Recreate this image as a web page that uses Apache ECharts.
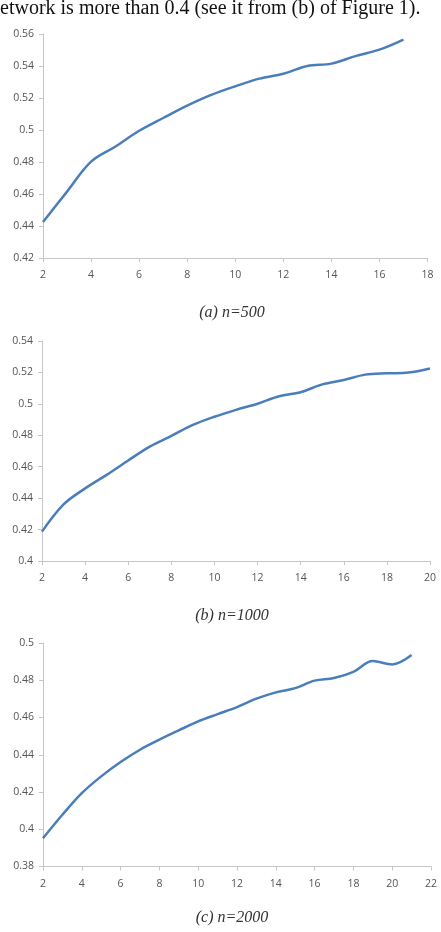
<!DOCTYPE html>
<html>
<head>
<meta charset="utf-8">
<script src="https://cdn.jsdelivr.net/npm/echarts@6/dist/echarts.min.js"></script>
<style>
html,body{margin:0;padding:0;background:#fff;}
#c{width:441px;height:932px;}
</style>
</head>
<body>
<div id="c"></div>
<script>
// Chart (a) n=500
const xA = [2,3,4,5,6,7,8,9,10,11,12,13,14,15,16,17];
const yA = [0.4425,0.4615,0.4802,0.4895,0.4995,0.5075,0.5152,0.5219,0.5273,0.5321,0.5352,0.5400,0.5415,0.5462,0.5502,0.5565];
// Chart (b) n=1000
const xB = [2,3,4,5,6,7,8,9,10,11,12,13,14,15,16,17,18,19,20];
const yB = [0.4187,0.4360,0.4462,0.4548,0.4640,0.4728,0.4796,0.4866,0.4918,0.4962,0.5001,0.5048,0.5074,0.5124,0.5152,0.5186,0.5194,0.5199,0.5225];
// Chart (c) n=2000
const xC = [2,3,4,5,6,7,8,9,10,11,12,13,14,15,16,17,18,19,20,21];
const yC = [0.3952,0.4078,0.4194,0.4284,0.4361,0.4427,0.4481,0.4531,0.4579,0.4618,0.4656,0.4701,0.4735,0.4758,0.4798,0.4812,0.4845,0.4903,0.4885,0.4935];
// axis ranges / tick labels
const axA = {xmin:2,xmax:18,xint:2,ymin:0.42,ymax:0.56,yint:0.02};
const axB = {xmin:2,xmax:20,xint:2,ymin:0.40,ymax:0.54,yint:0.02};
const axC = {xmin:2,xmax:22,xint:2,ymin:0.38,ymax:0.50,yint:0.02};
const captions = ['(a) n=500','(b) n=1000','(c) n=2000'];
const headerText = 'etwork is more than 0.4 (see it from (b) of Figure 1).';

const chart = echarts.init(document.getElementById('c'), null, {renderer:'canvas'});
const axisCol = '#c6c6c6';
const labCol = '#555555';
const labFont = {color:labCol, fontSize:10.5, fontFamily:'Open Sans, DejaVu Sans, sans-serif'};

function xAxis(i, ax){
  return {type:'value', gridIndex:i, min:ax.xmin, max:ax.xmax, interval:ax.xint,
    axisLine:{show:true, lineStyle:{color:axisCol,width:1}},
    axisTick:{show:true, length:4, lineStyle:{color:axisCol}},
    splitLine:{show:false},
    axisLabel:Object.assign({margin:12}, labFont)};
}
function yAxis(i, ax){
  return {type:'value', gridIndex:i, min:ax.ymin, max:ax.ymax, interval:ax.yint,
    axisLine:{show:true, lineStyle:{color:axisCol,width:1}},
    axisTick:{show:true, length:4, lineStyle:{color:axisCol}},
    splitLine:{show:false},
    axisLabel:Object.assign({margin:9, formatter:v=>String(+v.toFixed(2))}, labFont)};
}
function series(i, xs, ys){
  return {type:'line', xAxisIndex:i, yAxisIndex:i, data:xs.map((x,k)=>[x,ys[k]]),
    smooth:0.35, showSymbol:false, symbol:'none',
    lineStyle:{color:'#4a7ebb', width:2.5}};
}
const capStyle = {fill:'#333', fontSize:16, fontStyle:'italic', fontFamily:'Liberation Serif, Times New Roman, serif', textAlign:'center', textVerticalAlign:'middle'};

chart.setOption({
  animation:false,
  backgroundColor:'#fff',
  grid:[
    {left:43, top:34, width:384.5, height:224},
    {left:42, top:341, width:388, height:220},
    {left:43, top:643, width:388, height:223.5}
  ],
  xAxis:[xAxis(0,axA), xAxis(1,axB), xAxis(2,axC)],
  yAxis:[yAxis(0,axA), yAxis(1,axB), yAxis(2,axC)],
  series:[series(0,xA,yA), series(1,xB,yB), series(2,xC,yC)],
  graphic:[
    {type:'text', x:0, y:-1, style:{text:headerText, fill:'#111', fontSize:20, fontFamily:'Liberation Serif, Times New Roman, serif'}},
    {type:'text', x:232, y:313, style:Object.assign({text:captions[0]}, capStyle)},
    {type:'text', x:232, y:616, style:Object.assign({text:captions[1]}, capStyle)},
    {type:'text', x:232, y:918, style:Object.assign({text:captions[2]}, capStyle)}
  ]
});
</script>
</body>
</html>
